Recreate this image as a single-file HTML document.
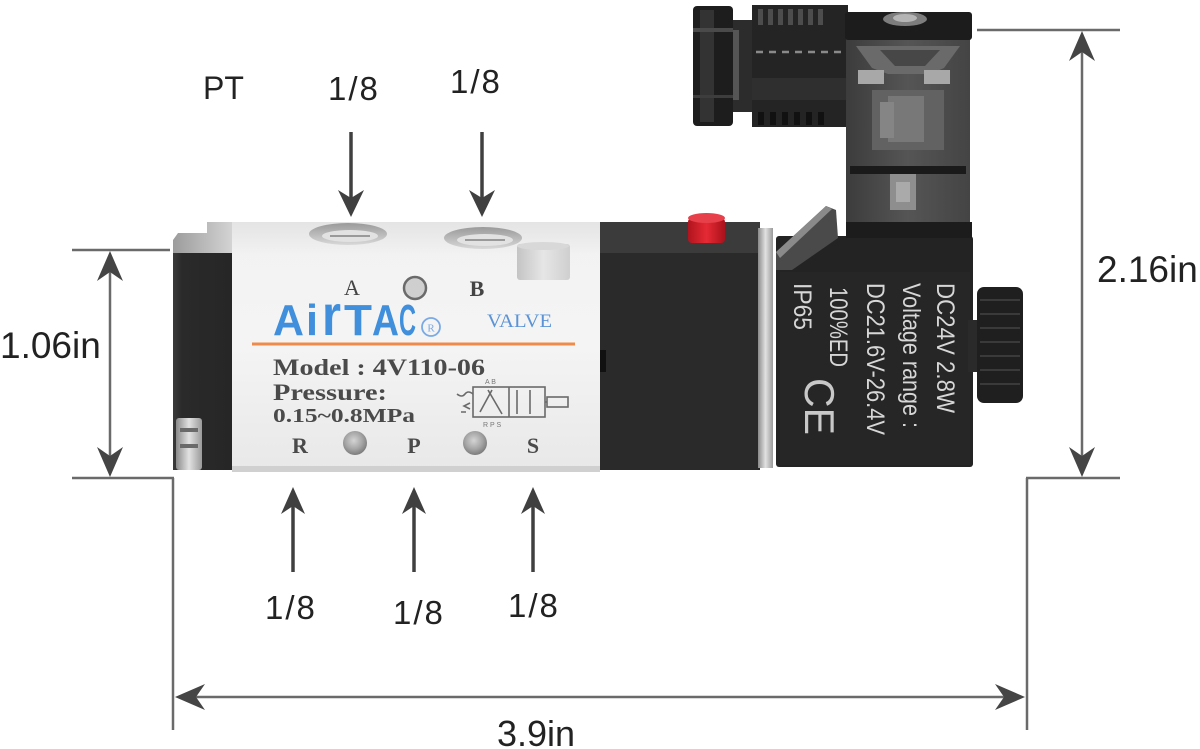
<!DOCTYPE html>
<html>
<head>
<meta charset="utf-8">
<style>
  html,body{margin:0;padding:0;background:#fff;}
  svg{display:block;}
  .lbl{font-family:"Liberation Sans",Arial,sans-serif;fill:#222;}
  .ser{font-family:"Liberation Serif","Times New Roman",serif;}
  .coil{font-family:"Liberation Sans",Arial,sans-serif;fill:#d6d6d6;}
</style>
</head>
<body>
<svg width="1200" height="749" viewBox="0 0 1200 749" xmlns="http://www.w3.org/2000/svg">
  <defs>
    <linearGradient id="bodyG" x1="0" y1="0" x2="0" y2="1">
      <stop offset="0" stop-color="#f2f2f2"/>
      <stop offset="0.5" stop-color="#f4f4f4"/>
      <stop offset="1" stop-color="#e8e8e8"/>
    </linearGradient>
    <linearGradient id="topG" x1="0" y1="0" x2="0" y2="1">
      <stop offset="0" stop-color="#e4e4e4"/>
      <stop offset="1" stop-color="#f2f2f2"/>
    </linearGradient>
    <linearGradient id="capTop" x1="0" y1="0" x2="1" y2="0">
      <stop offset="0" stop-color="#9c9c9c"/>
      <stop offset="1" stop-color="#d6d6d6"/>
    </linearGradient>
    <linearGradient id="blackG" x1="0" y1="0" x2="1" y2="0">
      <stop offset="0" stop-color="#3a3a3a"/>
      <stop offset="0.15" stop-color="#2a2a2a"/>
      <stop offset="1" stop-color="#262626"/>
    </linearGradient>
    <linearGradient id="silver" x1="0" y1="0" x2="1" y2="0">
      <stop offset="0" stop-color="#8a8a8a"/>
      <stop offset="0.5" stop-color="#e2e2e2"/>
      <stop offset="1" stop-color="#9a9a9a"/>
    </linearGradient>
    <linearGradient id="portG" x1="0" y1="0" x2="0" y2="1">
      <stop offset="0" stop-color="#9a9a9a"/>
      <stop offset="1" stop-color="#d8d8d8"/>
    </linearGradient>
    <radialGradient id="holeG" cx="0.45" cy="0.4" r="0.6">
      <stop offset="0" stop-color="#d4d4d4"/>
      <stop offset="0.6" stop-color="#a5a5a5"/>
      <stop offset="1" stop-color="#7c7c7c"/>
    </radialGradient>
    <linearGradient id="plugG" x1="0" y1="0" x2="1" y2="0">
      <stop offset="0" stop-color="#c4c4c4"/>
      <stop offset="0.5" stop-color="#e6e6e6"/>
      <stop offset="1" stop-color="#cfcfcf"/>
    </linearGradient>
    <linearGradient id="redG" x1="0" y1="0" x2="1" y2="0">
      <stop offset="0" stop-color="#b0141e"/>
      <stop offset="0.5" stop-color="#e52a34"/>
      <stop offset="1" stop-color="#a8121c"/>
    </linearGradient>
    <linearGradient id="connG" x1="0" y1="0" x2="1" y2="0">
      <stop offset="0" stop-color="#3c3c3c"/>
      <stop offset="0.5" stop-color="#555"/>
      <stop offset="1" stop-color="#444"/>
    </linearGradient>
  </defs>

  <rect x="0" y="0" width="1200" height="749" fill="#ffffff"/>

  <!-- Cable gland -->
  <rect x="693" y="6" width="40" height="120" rx="4" fill="#1d1d1d"/>
  <rect x="700" y="10" width="14" height="112" fill="#333"/>
  <rect x="693" y="28" width="40" height="4" fill="#4a4a4a"/>
  <rect x="693" y="95" width="40" height="3" fill="#3d3d3d"/>
  <rect x="733" y="20" width="20" height="92" fill="#2c2c2c"/>
  <rect x="733" y="30" width="6" height="70" fill="#555"/>
  <rect x="752" y="5" width="96" height="122" fill="#242424"/>
  <g fill="#4d4d4d">
    <rect x="758" y="9" width="5" height="16"/><rect x="768" y="9" width="5" height="16"/>
    <rect x="778" y="9" width="5" height="16"/><rect x="788" y="9" width="5" height="16"/>
    <rect x="798" y="9" width="5" height="16"/><rect x="808" y="9" width="5" height="16"/>
    <rect x="818" y="9" width="5" height="16"/>
  </g>
  <line x1="756" y1="52" x2="842" y2="52" stroke="#8a8a8a" stroke-width="2.5" stroke-dasharray="7,6"/>
  <rect x="752" y="78" width="96" height="22" fill="#2f2f2f"/>
  <g fill="#111">
    <rect x="758" y="112" width="6" height="13"/><rect x="770" y="112" width="6" height="13"/>
    <rect x="782" y="112" width="6" height="13"/><rect x="794" y="112" width="6" height="13"/>
    <rect x="806" y="112" width="6" height="13"/><rect x="818" y="112" width="6" height="13"/>
  </g>

  <!-- Coil body -->
  <rect x="776" y="236" width="197" height="231" rx="3" fill="#232323"/>
  <rect x="780" y="272" width="190" height="193" fill="#262626"/>

  <!-- Connector box -->
  <rect x="846" y="36" width="124" height="190" fill="url(#connG)"/>
  <polygon points="856,46 960,46 944,68 930,74 888,74 872,68" fill="#6a6a6a"/>
  <polygon points="880,50 940,50 925,66 895,66" fill="#474747"/>
  <rect x="858" y="70" width="26" height="14" fill="#a8a8a8"/>
  <rect x="924" y="70" width="26" height="14" fill="#a8a8a8"/>
  <rect x="872" y="90" width="72" height="60" fill="#626262"/>
  <rect x="888" y="96" width="36" height="46" fill="#787878"/>
  <rect x="880" y="102" width="14" height="36" fill="#858585"/>
  <rect x="850" y="166" width="116" height="8" fill="#1a1a1a"/>
  <rect x="890" y="174" width="26" height="36" fill="#8e8e8e"/>
  <rect x="896" y="182" width="14" height="20" fill="#aaa"/>
  <rect x="845" y="12" width="127" height="28" rx="3" fill="#1c1c1c"/>
  <ellipse cx="905" cy="19" rx="22" ry="7" fill="#7d7d7d"/>
  <ellipse cx="905" cy="18" rx="12" ry="4" fill="#b5b5b5"/>
  <rect x="846" y="222" width="126" height="16" fill="#1c1c1c"/>

  <!-- bracket flap -->
  <polygon points="776,252 826,206 836,210 838,238 792,270 776,270" fill="#4a4a4a"/>
  <polygon points="776,252 826,206 832,209 780,258" fill="#8a8a8a"/>

  <!-- Coil text -->
  <g class="coil">
    <text transform="translate(937,283) rotate(90)" font-size="25" textLength="130" lengthAdjust="spacingAndGlyphs">DC24V 2.8W</text>
    <text transform="translate(903,283) rotate(90)" font-size="25" textLength="145" lengthAdjust="spacingAndGlyphs">Voltage range :</text>
    <text transform="translate(867,283) rotate(90)" font-size="25" textLength="152" lengthAdjust="spacingAndGlyphs">DC21.6V-26.4V</text>
    <text transform="translate(830,287) rotate(90)" font-size="25" textLength="80" lengthAdjust="spacingAndGlyphs">100%ED</text>
    <text transform="translate(794,283) rotate(90)" font-size="25" textLength="47" lengthAdjust="spacingAndGlyphs">IP65</text>
    <text transform="translate(805,378) rotate(90)" font-size="42" textLength="57" lengthAdjust="spacingAndGlyphs" fill="#c8c8c8">CE</text>
  </g>

  <!-- Right knob -->
  <rect x="968" y="320" width="14" height="52" fill="#2a2a2a"/>
  <rect x="977" y="287" width="46" height="116" rx="7" fill="#1f1f1f"/>
  <g stroke="#3a3a3a" stroke-width="2">
    <line x1="980" y1="300" x2="1020" y2="300"/><line x1="980" y1="314" x2="1020" y2="314"/>
    <line x1="980" y1="328" x2="1020" y2="328"/><line x1="980" y1="342" x2="1020" y2="342"/>
    <line x1="980" y1="356" x2="1020" y2="356"/><line x1="980" y1="370" x2="1020" y2="370"/>
    <line x1="980" y1="384" x2="1020" y2="384"/>
  </g>

  <!-- Black middle block -->
  <rect x="600" y="222" width="160" height="33" fill="#3b3b3b"/>
  <rect x="600" y="253" width="160" height="217" fill="#2a2a2a"/>
  <rect x="600" y="350" width="6" height="22" fill="#111"/>
  <rect x="758" y="228" width="15" height="240" fill="url(#silver)"/>
  <rect x="688" y="218" width="37" height="25" rx="4" fill="url(#redG)"/>
  <ellipse cx="706.5" cy="218" rx="18.5" ry="5" fill="#e8404a"/>

  <!-- Left end cap -->
  <polygon points="178,233 207,233 207,222 235,222 235,254 173,254 173,240" fill="url(#capTop)"/>
  <rect x="173" y="253" width="60" height="217" fill="url(#blackG)"/>
  <rect x="176" y="418" width="26" height="52" rx="3" fill="url(#silver)"/>
  <rect x="180" y="428" width="18" height="4" fill="#6a6a6a"/>
  <rect x="180" y="444" width="18" height="4" fill="#6a6a6a"/>

  <!-- White body -->
  <rect x="232" y="222" width="368" height="250" fill="url(#bodyG)"/>
  <rect x="232" y="222" width="368" height="33" fill="url(#topG)"/>
  <rect x="232" y="466" width="368" height="6" fill="#d0d0d0"/>

  <ellipse cx="348" cy="234" rx="39" ry="11" fill="url(#portG)"/>
  <ellipse cx="350" cy="236" rx="28" ry="6" fill="#e2e2e2"/>
  <line x1="330" y1="236" x2="370" y2="236" stroke="#9a9a9a" stroke-width="2"/>
  <ellipse cx="483" cy="238" rx="39" ry="11" fill="url(#portG)"/>
  <ellipse cx="485" cy="240" rx="28" ry="6" fill="#e2e2e2"/>
  <line x1="465" y1="240" x2="505" y2="240" stroke="#9a9a9a" stroke-width="2"/>

  <rect x="517" y="244" width="53" height="36" rx="3" fill="url(#plugG)"/>
  <ellipse cx="543" cy="246" rx="26" ry="4" fill="#d8d8d8"/>

  <g class="ser" fill="#444">
    <text x="352" y="295" font-size="22" text-anchor="middle">A</text>
    <text x="477" y="296" font-size="22" text-anchor="middle" font-weight="bold">B</text>
  </g>
  <circle cx="415" cy="288" r="11" fill="#cfcfcf" stroke="#6a6a6a" stroke-width="2.5"/>

  <g font-family="'Liberation Sans',Arial,sans-serif" font-weight="bold" fill="#3f8fdc" font-size="44">
    <text x="273" y="335" textLength="31" lengthAdjust="spacingAndGlyphs">A</text>
    <text x="306" y="335" textLength="12" lengthAdjust="spacingAndGlyphs">i</text>
    <text transform="translate(322,335) scale(1,1.3)" x="0" y="0" textLength="19" lengthAdjust="spacingAndGlyphs">r</text>
    <text x="344" y="335" textLength="28" lengthAdjust="spacingAndGlyphs">T</text>
    <text x="372" y="335" textLength="27" lengthAdjust="spacingAndGlyphs">A</text>
    <text x="399" y="335" textLength="17" lengthAdjust="spacingAndGlyphs">C</text>
  </g>
  <circle cx="431" cy="327" r="9" fill="none" stroke="#7aaae6" stroke-width="1.8"/>
  <text x="431" y="331.5" font-size="11" text-anchor="middle" class="ser" fill="#7aaae6">R</text>
  <text x="487" y="327" class="ser" font-size="19" fill="#5b93d6" textLength="65" lengthAdjust="spacingAndGlyphs">VALVE</text>

  <line x1="252" y1="344" x2="575" y2="344" stroke="#f08a4b" stroke-width="3"/>

  <g class="ser" fill="#4a4a4a" font-weight="bold">
    <text x="273" y="375" font-size="23" textLength="212" lengthAdjust="spacingAndGlyphs">Model : 4V110-06</text>
    <text x="273" y="400" font-size="23" textLength="114" lengthAdjust="spacingAndGlyphs">Pressure:</text>
    <text x="273" y="422" font-size="20" textLength="142" lengthAdjust="spacingAndGlyphs">0.15~0.8MPa</text>
    <text x="300" y="453" font-size="22" text-anchor="middle">R</text>
    <text x="414" y="453" font-size="22" text-anchor="middle">P</text>
    <text x="533" y="453" font-size="22" text-anchor="middle">S</text>
  </g>

  <circle cx="355" cy="443" r="12" fill="url(#holeG)"/>
  <circle cx="475" cy="443" r="12" fill="url(#holeG)"/>

  <g stroke="#6a6a6a" stroke-width="1.6" fill="none">
    <path d="M473,394 q-5,-4 -8,0 q-3,4 -8,0 M470,403 l-6,3 l6,3 M466,412 l-5,0"/>
    <rect x="473" y="387" width="72" height="30"/>
    <line x1="509" y1="387" x2="509" y2="417"/>
    <line x1="480" y1="412" x2="492" y2="390"/>
    <line x1="488" y1="390" x2="502" y2="414"/>
    <line x1="517" y1="390" x2="517" y2="414"/>
    <line x1="530" y1="390" x2="530" y2="414"/>
    <rect x="547" y="397" width="21" height="10"/>
    <line x1="545" y1="402" x2="547" y2="402"/>
  </g>
  <g fill="#777" font-family="'Liberation Sans',Arial,sans-serif" font-size="7">
    <text x="485" y="384">A B</text>
    <text x="483" y="427">R P S</text>
  </g>

  <!-- DIMENSIONS -->
  <g stroke="#6a6a6a" stroke-width="2.5" fill="none">
    <line x1="72" y1="250" x2="170" y2="250"/>
    <line x1="72" y1="478" x2="174" y2="478"/>
    <line x1="173" y1="478" x2="173" y2="730"/>
    <line x1="110" y1="262" x2="110" y2="466"/>
    <line x1="977" y1="30" x2="1120" y2="30"/>
    <line x1="1026" y1="478" x2="1120" y2="478"/>
    <line x1="1027" y1="478" x2="1027" y2="730"/>
    <line x1="1082" y1="42" x2="1082" y2="466"/>
    <line x1="186" y1="697" x2="1014" y2="697"/>
  </g>
  <g fill="#454545">
    <polygon points="110,251 123,281 110,272 97,281"/>
    <polygon points="110,477 123,447 110,456 97,447"/>
    <polygon points="1082,31 1095,61 1082,52 1069,61"/>
    <polygon points="1082,477 1095,447 1082,456 1069,447"/>
    <polygon points="175,697 205,684 196,697 205,710"/>
    <polygon points="1025,697 995,684 1004,697 995,710"/>
  </g>

  <g stroke="#404040" stroke-width="3.5">
    <line x1="351" y1="132" x2="351" y2="202"/>
    <line x1="482" y1="132" x2="482" y2="202"/>
    <line x1="293" y1="500" x2="293" y2="572"/>
    <line x1="414" y1="500" x2="414" y2="572"/>
    <line x1="533" y1="500" x2="533" y2="572"/>
  </g>
  <g fill="#404040">
    <polygon points="351,217 364,190 351,198 338,190"/>
    <polygon points="482,217 495,190 482,198 469,190"/>
    <polygon points="293,487 305,514 293,506 281,514"/>
    <polygon points="414,487 426,514 414,506 402,514"/>
    <polygon points="533,487 545,514 533,506 521,514"/>
  </g>

  <g class="lbl">
    <text x="203" y="99" font-size="32">PT</text>
    <text x="328" y="100" font-size="33" letter-spacing="2">1/8</text>
    <text x="450" y="93" font-size="33" letter-spacing="2">1/8</text>
    <text x="265" y="619" font-size="33" letter-spacing="2">1/8</text>
    <text x="393" y="624" font-size="33" letter-spacing="2">1/8</text>
    <text x="508" y="617" font-size="33" letter-spacing="2">1/8</text>
    <text x="0" y="358" font-size="37">1.06in</text>
    <text x="1097" y="282" font-size="37">2.16in</text>
    <text x="497" y="746" font-size="36">3.9in</text>
  </g>
</svg>
</body>
</html>
